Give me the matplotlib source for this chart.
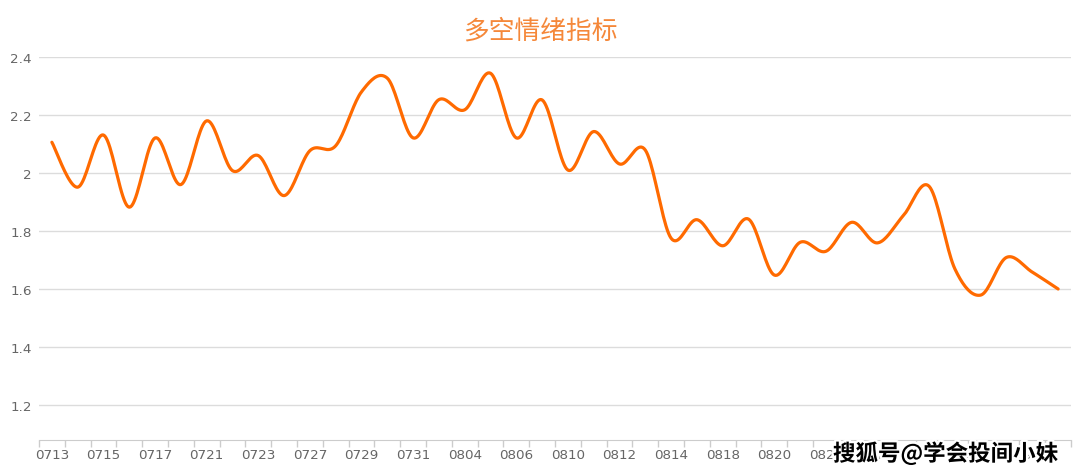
import numpy as np
import matplotlib
matplotlib.use('Agg')
import matplotlib.pyplot as plt
import matplotlib.patheffects as pe

plt.rcParams['font.family'] = ['DejaVu Sans', 'Noto Sans CJK SC']

# trading days (MMDD) and indicator values
dates = ['0713', '0714', '0715', '0716', '0717', '0720', '0721', '0722', '0723', '0724',
         '0727', '0728', '0729', '0730', '0731', '0803', '0804', '0805', '0806', '0807',
         '0810', '0811', '0812', '0813', '0814', '0817', '0818', '0819', '0820', '0821',
         '0824', '0825', '0826', '0827', '0828', '0831', '0901', '0902', '0903', '0904']
values = [2.106, 1.951, 2.131, 1.882, 2.121, 1.960, 2.180, 2.008, 2.060, 1.922,
          2.077, 2.094, 2.280, 2.327, 2.121, 2.253, 2.218, 2.344, 2.121, 2.252,
          2.010, 2.143, 2.031, 2.079, 1.775, 1.839, 1.749, 1.841, 1.648, 1.761,
          1.730, 1.830, 1.759, 1.853, 1.954, 1.669, 1.579, 1.709, 1.658, 1.600]
yticks = [1.2, 1.4, 1.6, 1.8, 2.0, 2.2, 2.4]
ytick_labels = ['1.2', '1.4', '1.6', '1.8', '2', '2.2', '2.4']
title = '多空情绪指标'
watermark = '搜狐号@学会投间小妹'


# smooth drawing of the line (catmull-rom through the data points)
def smooth(x, y, n=20):
    x = np.asarray(x, float)
    y = np.asarray(y, float)
    px = np.concatenate([[x[0]], x, [x[-1]]])
    py = np.concatenate([[y[0]], y, [y[-1]]])
    t = np.linspace(0, 1, n, endpoint=False)
    xs, ys = [], []
    for i in range(1, len(px) - 2):
        for p, out in ((px, xs), (py, ys)):
            p0, p1, p2, p3 = p[i - 1], p[i], p[i + 1], p[i + 2]
            out.append(0.5 * ((2 * p1) + (-p0 + p2) * t +
                              (2 * p0 - 5 * p1 + 4 * p2 - p3) * t**2 +
                              (-p0 + 3 * p1 - 3 * p2 + p3) * t**3))
    xs.append([x[-1]])
    ys.append([y[-1]])
    return np.concatenate(xs), np.concatenate(ys)


fig = plt.figure(figsize=(10.8, 4.77), dpi=100)
ax = fig.add_axes([0.0361, 0.0755, 0.9556, 0.8029])

xi = np.arange(len(values))
sx, sy = smooth(xi, values)
ax.plot(sx, sy, color='#FF6A00', lw=2.3, solid_capstyle='round', zorder=3)

ax.set_xlim(-0.5, len(values) - 0.5)
ax.set_ylim(1.0793, 2.4)

# y grid
ax.set_yticks(yticks)
ax.set_yticklabels(ytick_labels)
ax.grid(axis='y', color='#dcdcdc', lw=1)
ax.set_axisbelow(True)

# x axis: labels every other day, ticks at category boundaries
ax.set_xticks(xi[::2])
ax.set_xticklabels(dates[::2])
ax.set_xticks(np.arange(len(values) + 1) - 0.5, minor=True)
ax.tick_params(axis='x', which='major', length=0, pad=6, labelsize=9.7, labelcolor='#666666')
ax.tick_params(axis='x', which='minor', length=5, color='#cccccc', width=1)
ax.tick_params(axis='y', length=0, pad=5, labelsize=9.7, labelcolor='#666666')

for s in ['top', 'right', 'left']:
    ax.spines[s].set_visible(False)
ax.spines['bottom'].set_color('#cccccc')

fig.text(0.5, 0.933, title, ha='center', va='center', fontsize=18.5,
         color='#F5883A', family=['Noto Sans CJK SC'])

fig.text(0.8755, 0.046, watermark, ha='center', va='center', fontsize=16.2,
         fontweight='bold', color='black', family=['Noto Sans CJK SC'],
         path_effects=[pe.withStroke(linewidth=3.5, foreground='white')], zorder=10)

fig.savefig('out.png', dpi=100)
